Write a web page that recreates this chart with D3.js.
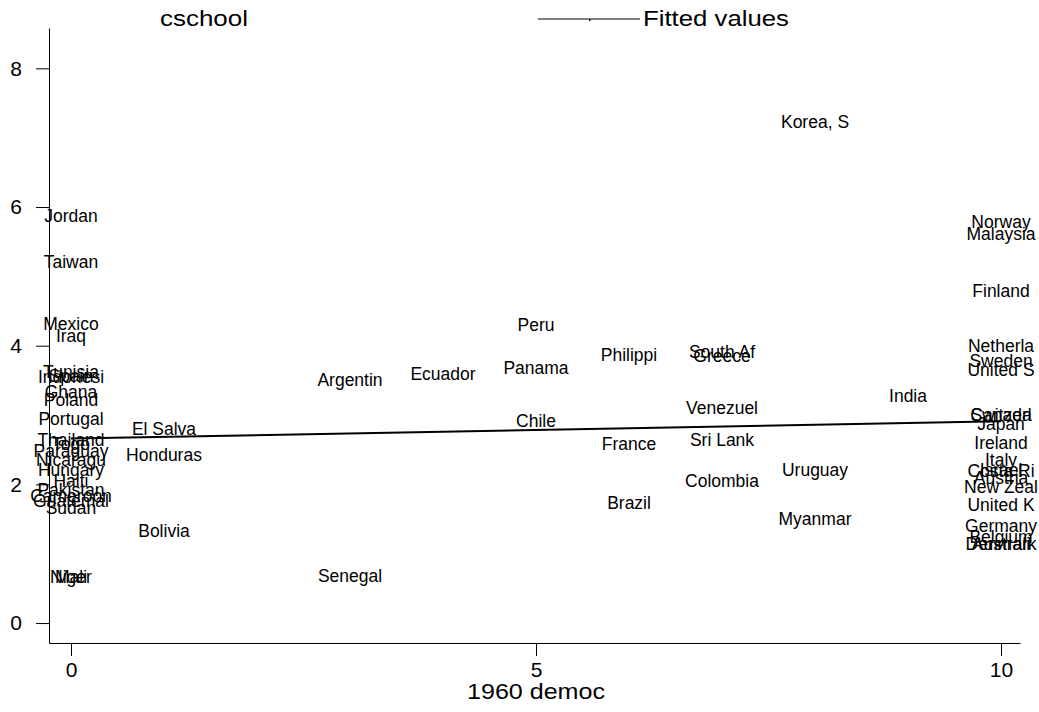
<!DOCTYPE html>
<html>
<head>
<meta charset="utf-8">
<script src="https://d3js.org/d3.v7.min.js"></script>
<style>
  body { margin: 0; background: #fff; }
  text { font-family: "Liberation Sans", Arial, sans-serif; fill: #000; }
</style>
</head>
<body>
<script>
'use strict';
// country label, 1960 democ, cschool
const countries = [
  "Jordan", "Taiwan", "Mexico", "Iraq", "Tunisia", "Spain", "Indonesi", "Ghana", "Poland", "Portugal",
  "Thailand", "Togo", "Paraguay", "Nicaragu", "Hungary", "Haiti", "Pakistan", "Cameroon", "Guatemal", "Sudan",
  "Niger", "Mali",
  "El Salva", "Honduras", "Bolivia",
  "Argentin", "Senegal", "Ecuador",
  "Peru", "Panama", "Chile",
  "Philippi", "France", "Brazil",
  "South Af", "Greece", "Venezuel", "Sri Lank", "Colombia",
  "Korea, S", "Uruguay", "Myanmar", "India",
  "Norway", "Malaysia", "Finland", "Netherla", "Sweden", "United S", "Switzerl", "Canada", "Japan", "Ireland",
  "Italy", "Israel", "Costa Ri", "Austria", "New Zeal", "United K", "Germany", "Belgium", "Denmark", "Australi"
];
const democ = [
  0, 0, 0, 0, 0, 0, 0, 0, 0, 0,
  0, 0, 0, 0, 0, 0, 0, 0, 0, 0,
  0, 0,
  1, 1, 1,
  3, 3, 4,
  5, 5, 5,
  6, 6, 6,
  7, 7, 7, 7, 7,
  8, 8, 8, 9,
  10, 10, 10, 10, 10, 10, 10, 10, 10, 10,
  10, 10, 10, 10, 10, 10, 10, 10, 10, 10
];
const cschool = [
  5.87, 5.21, 4.32, 4.14, 3.62, 3.57, 3.55, 3.34, 3.22, 2.95,
  2.65, 2.59, 2.49, 2.36, 2.21, 2.06, 1.92, 1.84, 1.76, 1.66,
  0.67, 0.67,
  2.80, 2.43, 1.33,
  3.51, 0.68, 3.59,
  4.30, 3.68, 2.92,
  3.87, 2.59, 1.74,
  3.91, 3.85, 3.11, 2.65, 2.06,
  7.23, 2.21, 1.51, 3.28,
  5.79, 5.62, 4.79, 4.00, 3.79, 3.65, 3.01, 3.00, 2.87, 2.60,
  2.35, 2.21, 2.19, 2.10, 1.97, 1.70, 1.41, 1.24, 1.14, 1.14
];
// fitted values at the ends of the x range
const fitX = [0, 10];
const fitY = [2.66, 2.91];
const xTicks = [0, 5, 10];
const yTicks = [0, 2, 4, 6, 8];

(function () {
  let svg = "";

  window.onload = function () {
    svg = d3.select('body')
      .append('svg')
      .attr('width', 1039)
      .attr('height', 712);

    let scales = drawAxes();
    plotLabels(scales);
    plotFit(scales);
    makeLegend();
  }

  // text stretched sideways like the exported graph
  function wideText(x, y, str, anchor, sx) {
    svg.append('text')
      .attr('transform', 'translate(' + x + ',' + y + ')scale(' + sx + ',1)')
      .attr('text-anchor', anchor)
      .style('font-size', '22px')
      .text(str);
  }

  function drawAxes() {
    let xScale = d3.scaleLinear()
      .domain([-0.2366, 10.204])
      .range([49, 1020]);
    let yScale = d3.scaleLinear()
      .domain([-0.288, 8.582])
      .range([643, 28]);

    let xAxis = d3.axisBottom(xScale).tickValues(xTicks).tickSize(13).tickSizeOuter(0).tickPadding(6);
    let gx = svg.append('g')
      .attr('transform', 'translate(0, 643)')
      .call(xAxis);
    gx.selectAll('text').style('font-size', '21px');

    let yAxis = d3.axisLeft(yScale).tickValues(yTicks).tickSize(13).tickSizeOuter(0).tickPadding(14);
    let gy = svg.append('g')
      .attr('transform', 'translate(49, 0)')
      .call(yAxis);
    gy.selectAll('text').style('font-size', '21px');

    svg.selectAll('.domain, .tick line').attr('stroke', '#000');

    wideText(536, 699, '1960 democ', 'middle', 1.14);

    return { x: xScale, y: yScale };
  }

  function plotLabels(s) {
    svg.selectAll('.lbl')
      .data(countries)
      .enter()
      .append('text')
      .attr('class', 'lbl')
      .attr('x', (d, i) => s.x(democ[i]))
      .attr('y', (d, i) => s.y(cschool[i]))
      .attr('dy', '0.36em')
      .attr('text-anchor', 'middle')
      .style('font-size', '17.5px')
      .text((d) => d);
  }

  function plotFit(s) {
    let line = d3.line()
      .x((d, i) => s.x(fitX[i]))
      .y((d) => s.y(d));
    svg.append('path')
      .datum(fitY)
      .attr('fill', 'none')
      .attr('stroke', '#000')
      .attr('stroke-width', 2)
      .attr('d', line);
  }

  function makeLegend() {
    wideText(160, 26, 'cschool', 'start', 1.18);
    svg.append('line')
      .attr('x1', 538)
      .attr('x2', 640)
      .attr('y1', 19)
      .attr('y2', 19)
      .attr('stroke', '#000')
      .attr('stroke-width', 1.2);
    svg.append('rect')
      .attr('x', 589)
      .attr('y', 19)
      .attr('width', 1.5)
      .attr('height', 2)
      .attr('fill', '#000');
    wideText(643, 26, 'Fitted values', 'start', 1.17);
  }
})();
</script>
</body>
</html>
